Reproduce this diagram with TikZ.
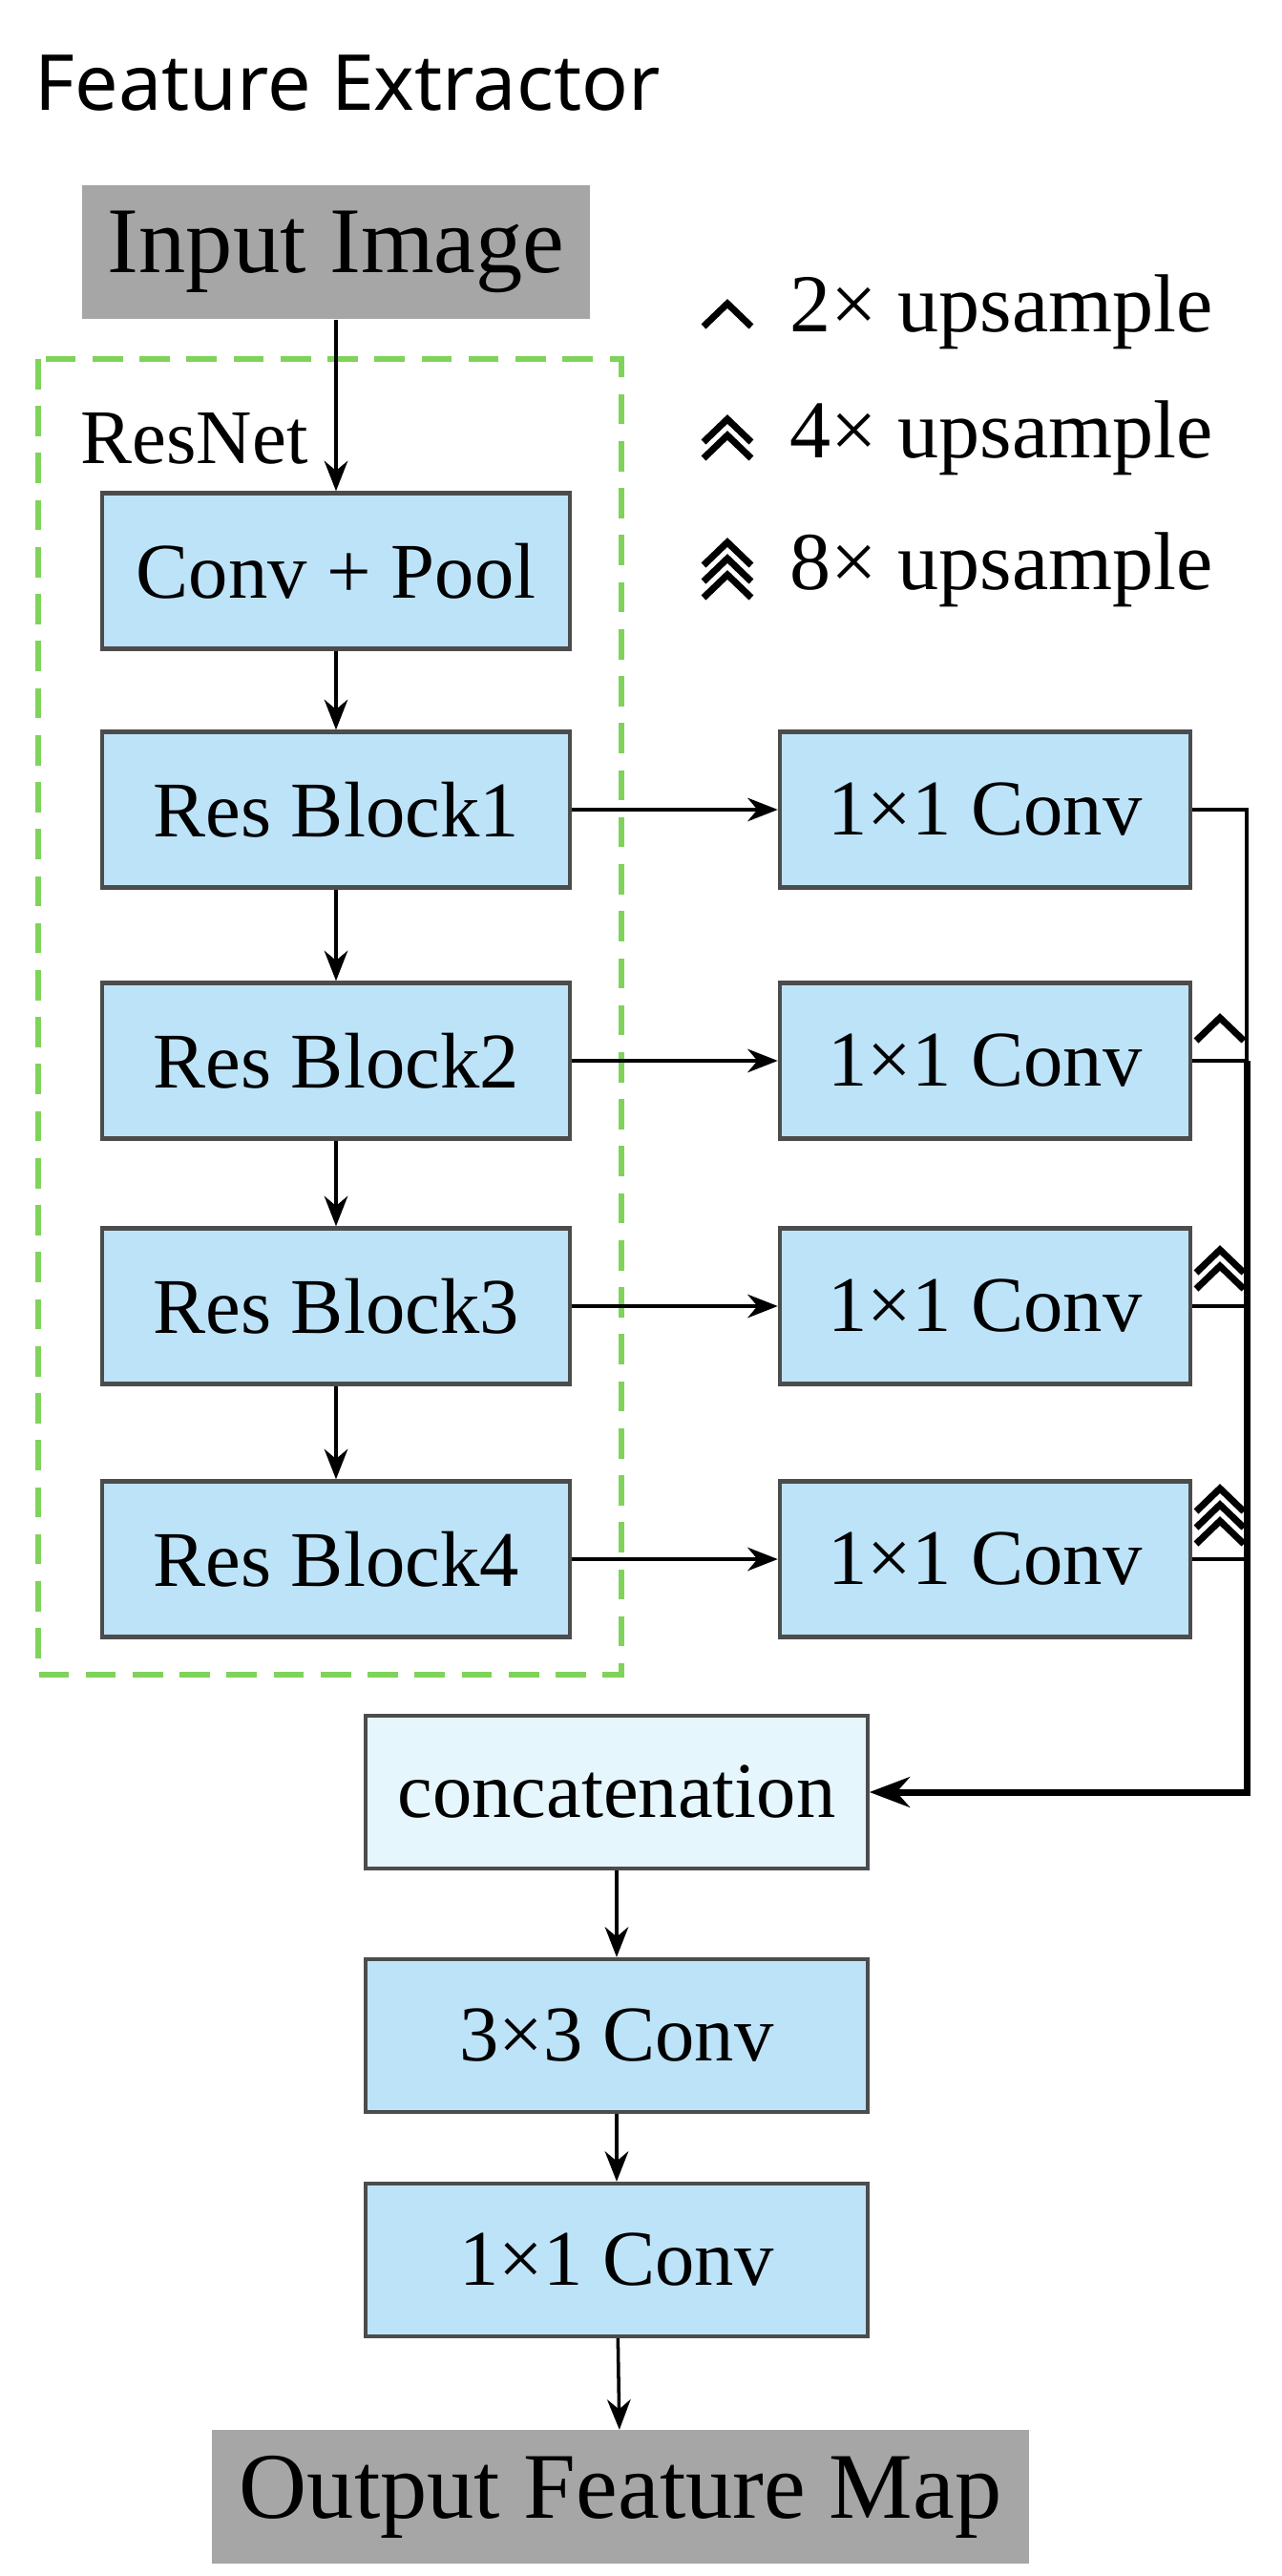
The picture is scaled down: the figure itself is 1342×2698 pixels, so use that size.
\documentclass[tikz,border=0pt]{standalone}
\usepackage{fontspec}
\setmainfont{Liberation Serif}
\newfontfamily\titlefont{Noto Sans}
\usetikzlibrary{arrows.meta}
\definecolor{boxblue}{HTML}{BDE3F8}
\definecolor{boxlight}{HTML}{E6F6FD}
\definecolor{boxgray}{HTML}{A6A6A6}
\definecolor{resgreen}{HTML}{7FD35A}
\tikzset{
  block/.style={draw=black!70, line width=1.2pt, fill=boxblue, minimum width=4.9cm, minimum height=1.63cm, inner sep=0pt, font=\fontsize{23.5}{28}\selectfont},
  side/.style={block, minimum width=4.3cm},
  io/.style={fill=boxgray, inner sep=0pt, font=\fontsize{28}{33}\selectfont},
  link/.style={line width=1pt, -{Stealth[length=9pt,width=7pt]}},
  chev/.style={line width=2pt, line join=miter}
}
% n stacked chevrons, bottom one centred at (#2,#3)
\newcommand{\upmark}[3]{%
  \foreach \k in {1,...,#1}{
    \draw[chev] ({#2-25},{#3+12-17*(\k-1)}) -- ({#2},{#3-12-17*(\k-1)}) -- ({#2+25},{#3+12-17*(\k-1)});
  }}
\begin{document}
\begin{tikzpicture}[x=0.01cm, y=-0.01cm]

\useasboundingbox (0,0) rectangle (1342,2698);

% Title
\node[anchor=west, font=\titlefont\fontsize{23}{28}\selectfont] (title) at (24,87) {Feature Extractor};

% Legend
\upmark{1}{762}{330}
\node[anchor=west, font=\fontsize{24.5}{29}\selectfont] (leg1) at (815,327) {2× upsample};
\upmark{2}{762}{468}
\node[anchor=west, font=\fontsize{24.5}{29}\selectfont] (leg2) at (815,459) {4× upsample};
\upmark{3}{762}{614}
\node[anchor=west, font=\fontsize{24.5}{29}\selectfont] (leg3) at (815,597) {8× upsample};

% ResNet
\draw[resgreen, line width=1.5pt, dash pattern=on 9pt off 5pt] (40,376) rectangle (651,1754);
\node[anchor=west, font=\fontsize{23}{27}\selectfont] (resnet) at (72,459) {ResNet};

\node[io, minimum width=5.31cm, minimum height=1.4cm] (input) at (352,264) {Input Image};
\node[block] (conv) at (352,598) {Conv + Pool};
\node[block] (rb1) at (352,848) {Res Block1};
\node[block] (rb2) at (352,1111) {Res Block2};
\node[block] (rb3) at (352,1368) {Res Block3};
\node[block] (rb4) at (352,1633) {Res Block4};

% 1x1 convs
\node[side] (c1) at (1032,848) {1×1 Conv};
\node[side] (c2) at (1032,1111) {1×1 Conv};
\node[side] (c3) at (1032,1368) {1×1 Conv};
\node[side] (c4) at (1032,1633) {1×1 Conv};

% Head
\node[block, fill=boxlight, minimum width=5.25cm, minimum height=1.6cm] (cat) at (646,1877) {concatenation};
\node[block, minimum width=5.25cm, minimum height=1.6cm] (conv3) at (646,2132) {3×3 Conv};
\node[block, minimum width=5.25cm, minimum height=1.6cm] (conv1) at (646,2367) {1×1 Conv};
\node[io, minimum width=8.55cm, minimum height=1.39cm] (output) at (650,2615) {Output Feature Map};

% Connectors
\draw[link] (input) -- (conv);
\draw[link] (conv) -- (rb1);
\draw[link] (rb1) -- (rb2);
\draw[link] (rb2) -- (rb3);
\draw[link] (rb3) -- (rb4);
\foreach \i in {1,...,4}
  \draw[link] (rb\i) -- (c\i);

\coordinate (bus) at (1306,1877);
\draw[line width=1pt] (c1.east) -| (bus);
\foreach \i in {2,3,4}
  \draw[line width=1pt] (c\i.east) -- (c\i.east -| bus);
\draw[line width=2pt, -{Stealth[length=12pt,width=9pt]}] (c2.east -| bus) -- (bus) -- (cat);

\upmark{1}{1278}{1078}
\upmark{2}{1278}{1338}
\upmark{3}{1278}{1605}

\draw[link] (cat) -- (conv3);
\draw[link] (conv3) -- (conv1);
\draw[link] (conv1) -- (output);

\end{tikzpicture}
\end{document}
